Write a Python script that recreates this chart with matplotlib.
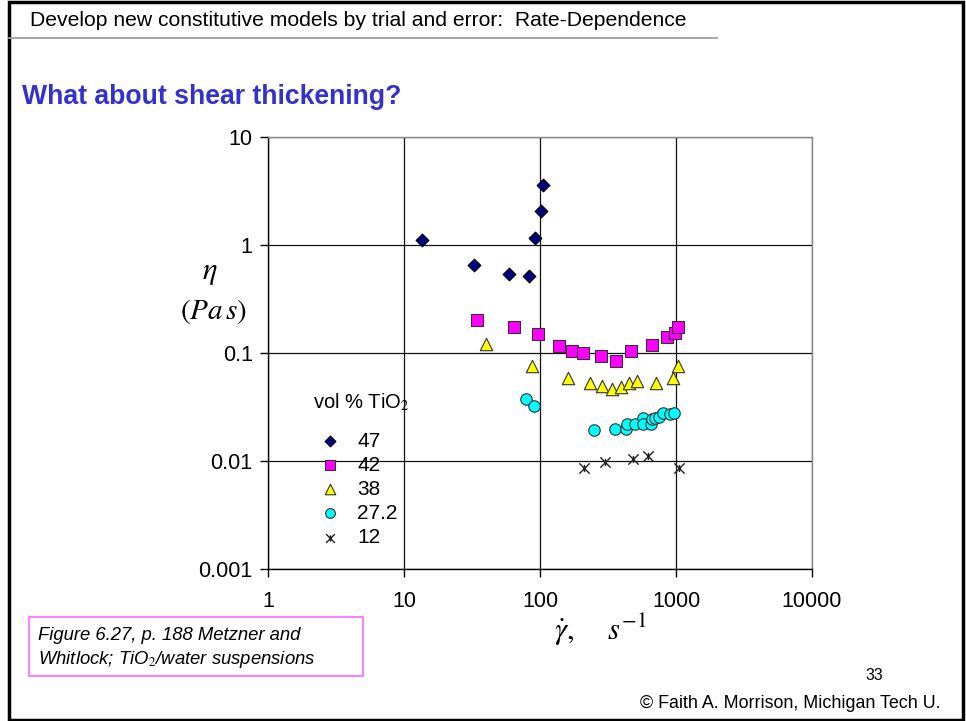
import matplotlib
matplotlib.use("Agg")
import matplotlib.pyplot as plt
from matplotlib.path import Path
from matplotlib.patches import Rectangle
from matplotlib.lines import Line2D

plt.rcParams['font.family'] = ['Liberation Sans', 'DejaVu Sans']
plt.rcParams['mathtext.fontset'] = 'stix'

# data: shear rate (1/s) and viscosity (Pa s)
labels = ["47", "42", "38", "27.2", "12"]

rate_47 = [13.5, 32.7, 58.9, 83, 91.4, 101.7, 105.7]
eta_47 = [1.11, 0.653, 0.542, 0.516, 1.17, 2.07, 3.57]

rate_42 = [34.2, 64.4, 97.2, 137, 171, 208, 281, 360, 464, 663, 854, 984, 1029]
eta_42 = [0.202, 0.175, 0.149, 0.116, 0.105, 0.101, 0.0944, 0.0837, 0.105, 0.119, 0.140, 0.154, 0.175]

rate_38 = [40.1, 86.9, 161.5, 233, 284, 340, 394, 454, 520, 709, 946, 1040]
eta_38 = [0.120, 0.0764, 0.059, 0.0524, 0.0494, 0.0467, 0.0489, 0.0524, 0.0555, 0.0524, 0.0583, 0.0758]

rate_27 = [78.9, 90.8, 250, 356, 429, 439, 500, 569, 575, 652, 663, 701, 750, 807, 903, 972]
eta_27 = [0.0375, 0.0325, 0.0194, 0.0196, 0.0198, 0.0220, 0.0219, 0.0252, 0.0219, 0.0219, 0.0245, 0.0249, 0.0257, 0.0276, 0.0270, 0.0276]

rate_12 = [211, 301, 480, 619, 1057]
eta_12 = [0.00867, 0.0097, 0.0105, 0.0112, 0.00857]

x_ticks = [1, 10, 100, 1000, 10000]
x_ticklabels = ["1", "10", "100", "1000", "10000"]
y_ticks = [0.001, 0.01, 0.1, 1, 10]
y_ticklabels = ["0.001", "0.01", "0.1", "1", "10"]

# excel-style star marker: an X with a short vertical bar
star = Path([(-1, -1), (1, 1), (-1, 1), (1, -1), (0, -0.7), (0, 0.7)],
            [Path.MOVETO, Path.LINETO, Path.MOVETO, Path.LINETO, Path.MOVETO, Path.LINETO])

fig = plt.figure(figsize=(9.66, 7.21), dpi=100)
ax = fig.add_axes([268 / 966, 1 - 569 / 721, (812 - 268) / 966, (569 - 137) / 721])

ax.scatter(rate_47, eta_47, marker='D', s=42, c='#000080', edgecolors='black', linewidths=0.8, zorder=3, label=labels[0])
ax.scatter(rate_42, eta_42, marker='s', s=65, c='#FF00FF', edgecolors='#333333', linewidths=0.8, zorder=3, label=labels[1])
ax.scatter(rate_38, eta_38, marker='^', s=80, c='#FFFF00', edgecolors='#333333', linewidths=0.8, zorder=3, label=labels[2])
ax.scatter(rate_27, eta_27, marker='o', s=68, c='#00FFFF', edgecolors='#333333', linewidths=0.8, zorder=3, label=labels[3])
ax.scatter(rate_12, eta_12, marker=star, s=55, c='#222222', linewidths=1.0, zorder=3, label=labels[4])

ax.set_xscale('log')
ax.set_yscale('log')
ax.set_xlim(1, 10000)
ax.set_ylim(0.001, 10)
ax.set_xticks(x_ticks)
ax.set_xticklabels(x_ticklabels)
ax.set_yticks(y_ticks)
ax.set_yticklabels(y_ticklabels)
ax.minorticks_off()
ax.tick_params(axis='both', direction='out', length=6, width=1, labelsize=15.5, color='black')
ax.tick_params(axis='x', pad=10)
ax.tick_params(axis='y', pad=5)
ax.grid(True, color='#111111', linewidth=0.9, zorder=0)
ax.set_axisbelow(True)
for side in ['top', 'right']:
    ax.spines[side].set_color('#888888')
    ax.spines[side].set_linewidth(1)
for side in ['left', 'bottom']:
    ax.spines[side].set_color('black')
    ax.spines[side].set_linewidth(1)

# axis labels in serif math font
fig.text(210 / 966, 1 - 272 / 721, r'$\eta$', fontsize=22, ha='center', va='center')
fig.text(214 / 966, 1 - 311 / 721, r'$(Pa\,s)$', fontsize=21, ha='center', va='center')
fig.text(600 / 966, 1 - 630 / 721, r'$\dot{\gamma},\quad\ s^{-1}$', fontsize=22, ha='center', va='center')

# legend
fig.text(313 / 966, 1 - 402 / 721, 'vol % TiO$_2$', fontsize=14.5, ha='left', va='center')
leg = ax.legend(loc='upper left', bbox_to_anchor=(0.091, 0.318), frameon=False, fontsize=15,
                handlelength=1.2, handletextpad=0.7, labelspacing=0.245, markerscale=0.85,
                borderpad=0, borderaxespad=0)
for h in leg.legend_handles:
    h.set_zorder(5)

# slide decorations
fig.patches.append(Rectangle((9 / 966, 1 / 721), 954 / 966, 718 / 721, transform=fig.transFigure,
                             fill=False, edgecolor='black', linewidth=2.5))
fig.add_artist(Line2D([9 / 966, 717 / 966], [1 - 38 / 721, 1 - 38 / 721], transform=fig.transFigure,
                      color='#A0A0A0', linewidth=1.3))
fig.text(30 / 966, 1 - 20 / 721, 'Develop new constitutive models by trial and error:  Rate-Dependence',
         fontsize=15.2, ha='left', va='center')
fig.text(22 / 966, 1 - 97 / 721, 'What about shear thickening?', fontsize=19.2, fontweight='bold',
         color='#3333CC', ha='left', va='center')

fig.patches.append(Rectangle((29 / 966, 1 - 676 / 721), 334 / 966, 59 / 721, transform=fig.transFigure,
                             fill=False, edgecolor='#FF66FF', linewidth=1.2))
fig.text(38 / 966, 1 - 636 / 721, 'Figure 6.27, p. 188 Metzner and', fontsize=13.3, style='italic',
         ha='left', va='center')
fig.text(38 / 966, 1 - 659 / 721, r'Whitlock; TiO$_2$/water suspensions', fontsize=13.3, style='italic',
         ha='left', va='center')

fig.text(874 / 966, 1 - 676 / 721, '33', fontsize=11.5, ha='center', va='center')
fig.text(940 / 966, 1 - 704 / 721, '\u00a9 Faith A. Morrison, Michigan Tech U.', fontsize=12.9,
         ha='right', va='center')

fig.savefig('out.png', dpi=100)
